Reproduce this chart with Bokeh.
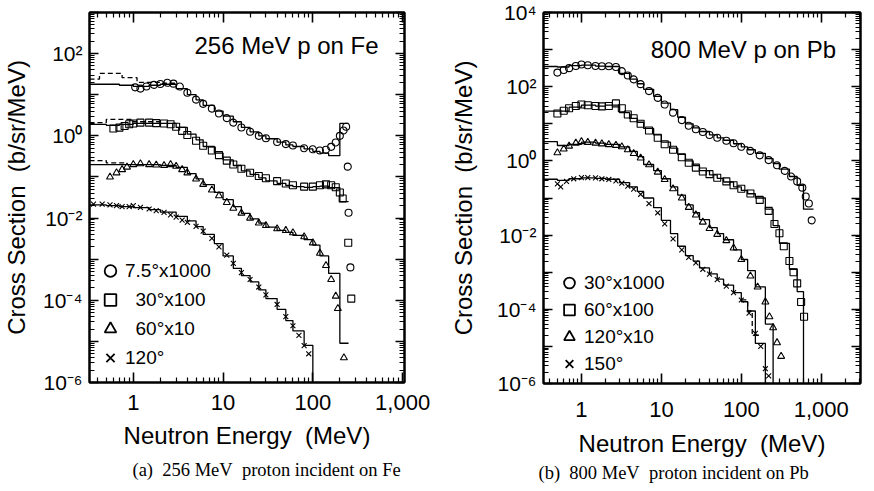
from bokeh.plotting import figure
from bokeh.layouts import row
from bokeh.models import (Range1d, LogAxis, FixedTicker, CustomJSTickFormatter,
                          NumeralTickFormatter, Legend, LegendItem, Label, Title)
from bokeh.embed import file_html
from bokeh.resources import INLINE

# ---------------- panel (a): 256 MeV p on Fe (plotted, already scaled) -------------
A_E_75 = [1.05, 1.2, 1.4, 1.7, 2.0, 2.4, 2.8, 3.3, 4.0, 5.0, 6.0, 7.5, 9, 11, 13, 16, 20, 25, 30, 40,
          50, 60, 80, 100, 120, 140, 160, 180, 200, 220, 235, 245, 250, 262]
A_Y_75 = [15.1, 14.1, 15.8, 17.4, 18.2, 19.5, 18.6, 15.8, 11.2, 7.6, 6.0, 4.6, 3.5, 2.7, 2.1, 1.6, 1.26, 1.0, 0.87, 0.71,
          0.63, 0.58, 0.5, 0.47, 0.44, 0.46, 0.54, 0.69, 1.0, 1.35, 1.66, 0.178, 0.0135, 0.00063]
A_E_30 = [0.6, 0.7, 0.8, 0.9, 1.0, 1.2, 1.5, 1.8, 2.2, 2.6, 3.0, 3.5, 4.0, 5.0, 6.0, 7.5, 9, 11, 13, 16,
          20, 25, 30, 40, 50, 60, 80, 100, 120, 140, 160, 180, 200, 215, 248, 268]
A_Y_30 = [1.51, 1.58, 1.74, 1.91, 2.0, 2.09, 2.09, 2.04, 2.0, 1.91, 1.66, 1.32, 1.05, 0.76, 0.575, 0.44, 0.34, 0.25, 0.2, 0.158,
          0.126, 0.105, 0.093, 0.079, 0.069, 0.063, 0.058, 0.058, 0.063, 0.066, 0.063, 0.056, 0.042, 0.030, 0.0025, 0.00011]
A_E_60 = [0.55, 0.65, 0.75, 0.85, 1.0, 1.2, 1.5, 1.8, 2.2, 2.6, 3.0, 3.5, 4.0, 5.0, 6.0, 7.5, 9, 11, 13, 16,
          20, 25, 30, 40, 50, 60, 80, 100, 120, 140, 160, 180, 190, 222]
A_Y_60 = [0.1, 0.126, 0.151, 0.174, 0.2, 0.209, 0.2, 0.195, 0.19, 0.2, 0.182, 0.151, 0.126, 0.089, 0.066, 0.048, 0.035, 0.024, 0.0174, 0.0132,
          0.01, 0.0076, 0.0066, 0.0055, 0.005, 0.0044, 0.0035, 0.0025, 0.0014, 0.0007, 0.00032, 0.000126, 0.000063, 0.000004]
A_E_120 = [0.36, 0.45, 0.55, 0.65, 0.75, 0.9, 1.0, 1.2, 1.5, 1.8, 2.2, 2.6, 3.0, 3.5, 4.0, 5.0, 6.0, 7.5, 9, 11,
           13, 16, 20, 25, 30, 40, 50, 60, 70, 80, 90]
A_Y_120 = [0.0219, 0.0219, 0.0209, 0.02, 0.019, 0.019, 0.02, 0.0182, 0.0166, 0.0151, 0.0138, 0.012, 0.0105, 0.0089, 0.0079, 0.0063, 0.0048, 0.0032, 0.002, 0.00126,
           0.00079, 0.00047, 0.00032, 0.00021, 0.000135, 0.000079, 0.00004, 0.000024, 0.000014, 0.0000079, 0.000005]

# calculation histograms (panel a)
A_EDGES = [0.325, 0.5, 0.7, 1, 1.5, 2, 3, 4, 5, 6, 8, 10, 13, 16, 20, 25, 30, 40, 50, 60, 80, 100, 120, 150, 200, 250]
A_H_75 = [18, 18, 17, 16, 17, 18, 14, 10, 7.5, 5.5, 4.0, 3.0, 2.2, 1.6, 1.25, 1.0, 0.85, 0.7, 0.6, 0.55, 0.48, 0.42, 0.38, 0.33, 2.0]
A_H_30 = [1.9, 1.8, 1.9, 2.0, 2.0, 2.0, 1.6, 1.1, 0.8, 0.55, 0.38, 0.26, 0.19, 0.14, 0.115, 0.095, 0.08, 0.07, 0.062, 0.058, 0.056, 0.058, 0.06, 0.055, 0.025]
A_H_60 = [0.2, 0.2, 0.2, 0.2, 0.2, 0.19, 0.17, 0.12, 0.09, 0.065, 0.042, 0.028, 0.019, 0.013, 0.0095, 0.0075, 0.006, 0.005, 0.0045, 0.0038, 0.003, 0.0022, 0.0012, 0.00045, 0.000009]
A_H_120 = [0.021, 0.02, 0.019, 0.018, 0.016, 0.014, 0.011, 0.0085, 0.0062, 0.004, 0.0024, 0.0012, 0.0006, 0.0004, 0.00028, 0.00018, 0.00011, 0.00006, 0.000032, 0.000018, 0.000008]
A_D_EDGES_75 = [0.325, 0.42, 0.75, 1.1, 2.0, 3.0]
A_D_75 = [24, 33, 26, 20, 19]
A_D_EDGES_30 = [0.325, 0.5, 1.0, 2.0]
A_D_30 = [2.1, 2.5, 2.2]
A_D_EDGES_60 = [0.325, 0.5, 0.8]
A_D_60 = [0.25, 0.22]

# ---------------- panel (b): 800 MeV p on Pb ----------------
B_E_30 = [0.5, 0.6, 0.7, 0.85, 1.0, 1.2, 1.5, 1.8, 2.2, 2.7, 3.2, 3.8, 4.5, 5.5, 7, 9, 11, 14, 18, 22,
          27, 33, 40, 50, 65, 80, 100, 130, 170, 220, 280, 350, 420, 500, 580, 640, 700, 760]
B_Y_30 = [240, 282, 316, 363, 398, 380, 363, 355, 355, 339, 263, 200, 158, 117, 76, 50, 33, 20, 12.6, 8.9,
          7.1, 6.0, 5.0, 4.2, 3.5, 3.0, 2.4, 1.86, 1.41, 1.05, 0.76, 0.54, 0.38, 0.28, 0.19, 0.11, 0.071, 0.025]
B_E_60 = [0.5, 0.6, 0.7, 0.85, 1.0, 1.2, 1.5, 1.8, 2.2, 2.7, 3.2, 3.8, 4.5, 5.5, 7, 9, 11, 14, 18, 22,
          27, 33, 40, 50, 65, 80, 100, 130, 170, 220, 260, 300, 340, 400, 450, 500, 560, 610]
B_Y_60 = [19, 22.4, 26.3, 30.2, 33.1, 31.6, 30.2, 29.5, 30.2, 35.5, 26.3, 17.8, 14.1, 10, 6.6, 4.2, 2.8, 2.0, 1.26, 0.89,
          0.66, 0.52, 0.44, 0.35, 0.28, 0.22, 0.178, 0.132, 0.089, 0.045, 0.02, 0.0112, 0.005, 0.002, 0.001, 0.0005, 0.000158, 0.000063]
B_E_120 = [0.5, 0.6, 0.7, 0.85, 1.0, 1.2, 1.5, 1.8, 2.2, 2.7, 3.2, 3.8, 4.5, 5.5, 7, 9, 11, 14, 18, 22,
           27, 33, 40, 50, 65, 80, 100, 130, 160, 200, 225, 250, 280, 315]
B_Y_120 = [1.66, 2.09, 2.51, 3.02, 3.31, 3.16, 3.02, 2.88, 2.75, 2.63, 2.4, 2.0, 1.58, 1.2, 0.79, 0.5, 0.316, 0.178, 0.1, 0.056,
           0.035, 0.0224, 0.0151, 0.0105, 0.0071, 0.0045, 0.0022, 0.00079, 0.0004, 0.000158, 0.000063, 0.000032, 0.0000126, 0.0000054]
B_E_150 = [0.5, 0.55, 0.65, 0.8, 1.0, 1.2, 1.5, 1.8, 2.2, 2.7, 3.2, 3.8, 4.5, 5.5, 7, 9, 11, 14, 18, 22,
           27, 33, 40, 50, 65, 80, 100, 125, 150, 175, 200, 220]
B_Y_150 = [0.24, 0.2, 0.28, 0.33, 0.355, 0.355, 0.347, 0.33, 0.316, 0.29, 0.25, 0.21, 0.174, 0.126, 0.071, 0.04, 0.02, 0.0079, 0.004, 0.0025,
           0.00178, 0.0012, 0.00089, 0.00063, 0.00042, 0.00028, 0.000178, 0.000079, 0.0000224, 0.00001, 0.0000025, 0.0000016]

B_EDGES = [0.335, 0.5, 0.7, 1, 1.5, 2, 3, 4, 5, 6, 8, 10, 13, 16, 20, 25, 30, 40, 50, 60, 80, 100, 120, 150, 200, 250, 300, 400, 500, 600, 800]
B_H_30 = [350, 340, 370, 380, 360, 350, 230, 160, 120, 85, 55, 36, 24, 15, 10, 7.8, 6.2, 5.0, 4.2, 3.6, 2.9, 2.4, 2.0, 1.6, 1.15, 0.85, 0.6, 0.38, 0.22, 0.05]
B_H_60 = [22, 22, 28, 32, 30, 32, 20, 14, 11, 7.5, 5.0, 3.2, 2.2, 1.5, 1.0, 0.75, 0.55, 0.42, 0.34, 0.27, 0.2, 0.16, 0.13, 0.1, 0.05, 0.018, 0.006, 0.0012, 0.0003]
B_H_120 = [3.3, 2.6, 2.8, 3.2, 3.0, 2.8, 2.4, 1.8, 1.3, 0.8, 0.55, 0.33, 0.2, 0.12, 0.065, 0.04, 0.026, 0.016, 0.011, 0.0075, 0.004, 0.0022, 0.0011, 0.0004, 0.00004]
B_H_150 = [0.32, 0.3, 0.33, 0.35, 0.34, 0.32, 0.26, 0.2, 0.15, 0.1, 0.055, 0.025, 0.011, 0.005, 0.0028, 0.002, 0.0013, 0.0009, 0.00065, 0.00045, 0.00028, 0.00016, 0.00009, 0.000012]
B_D_EDGES_150 = [100, 120, 137, 170]
B_D_150 = [0.00018, 0.00009, 0.00002]

NB = "\u00a0"
A_LABELS = ["7.5\u00b0x1000", NB * 2 + "30\u00b0x100", NB * 2 + "60\u00b0x10", "120\u00b0"]
B_LABELS = ["30\u00b0x1000", "60\u00b0x100", "120\u00b0x10", "150\u00b0"]
MARKERS = ["circle", "square", "triangle", "x"]
A_CAPTION = NB.join(["(a)", "", "256", "MeV", "", "proton", "incident", "on", "Fe"])
B_CAPTION = NB.join(["(b)", "", "800", "MeV", "", "proton", "incident", "on", "Pb"])

X_MAJOR = [1, 10, 100, 1000]
FONT = "Liberation Sans"


def steps(edges, vals, floor=None):
    xs, ys = [], []
    for i, v in enumerate(vals):
        xs += [edges[i], edges[i + 1]]
        ys += [v, v]
    if floor is not None:
        xs.append(edges[len(vals)])
        ys.append(floor)
    return xs, ys


def make_panel(xr, yr, exps, frame, borders, ylab_standoff, xtick_standoff, xlab_standoff,
               title_text, title_xy, caption, cap_offset, cap_standoff,
               series, hists, dashed, labels, leg_loc, leg_glyph_h):
    bl, br, bt, bb = borders
    p = figure(frame_width=frame[0], frame_height=frame[1], x_axis_type="log", y_axis_type="log",
               x_range=Range1d(*xr), y_range=Range1d(*yr),
               output_backend="svg", toolbar_location=None,
               min_border_left=bl, min_border_right=br, min_border_top=bt, min_border_bottom=bb)
    p.title.visible = False
    p.xgrid.visible = False
    p.ygrid.visible = False
    p.outline_line_color = "black"
    p.outline_line_width = 2
    p.background_fill_color = "white"
    p.border_fill_color = "white"

    x_minor = [k * 10.0 ** n for n in range(-1, 4) for k in range(2, 10) if xr[0] < k * 10.0 ** n < xr[1]]
    y_major = [10.0 ** e for e in exps]
    y_minor = [k * 10.0 ** n for n in exps for k in range(2, 10) if yr[0] < k * 10.0 ** n < yr[1]]
    xt = FixedTicker(ticks=X_MAJOR, minor_ticks=x_minor)
    yt = FixedTicker(ticks=y_major, minor_ticks=y_minor)
    yfmt = CustomJSTickFormatter(code="""
        const e = Math.round(Math.log10(tick));
        if (e % 2 !== 0) { return " "; }
        const sup = {"-": "\u207b", "0": "\u2070", "1": "\u00b9", "2": "\u00b2", "3": "\u00b3",
                     "4": "\u2074", "5": "\u2075", "6": "\u2076", "7": "\u2077", "8": "\u2078", "9": "\u2079"};
        return "10" + String(e).split("").map(c => sup[c]).join("");
    """)

    def style(ax, major_len, minor_len):
        ax.major_tick_in = major_len
        ax.major_tick_out = 0
        ax.minor_tick_in = minor_len
        ax.minor_tick_out = 0
        ax.axis_line_width = 2
        ax.axis_line_color = "black"
        ax.major_tick_line_width = 1.6
        ax.minor_tick_line_width = 1.2
        ax.major_tick_line_color = "black"
        ax.minor_tick_line_color = "black"

    xa = p.xaxis[0]
    xa.ticker = xt
    xa.formatter = NumeralTickFormatter(format="0,0")
    style(xa, 10, 5)
    xa.major_label_text_font = FONT
    xa.major_label_text_font_size = "22px"
    xa.major_label_text_color = "black"
    xa.major_label_standoff = xtick_standoff
    xa.axis_label = "Neutron Energy" + NB * 2 + "(MeV)"
    xa.axis_label_text_font = FONT
    xa.axis_label_text_font_size = "24px"
    xa.axis_label_text_font_style = "normal"
    xa.axis_label_text_color = "black"
    xa.axis_label_standoff = xlab_standoff

    ya = p.yaxis[0]
    ya.ticker = yt
    ya.formatter = yfmt
    style(ya, 9, 5)
    ya.major_label_text_font = FONT
    ya.major_label_text_font_size = "21px"
    ya.major_label_text_color = "black"
    ya.major_label_standoff = 7
    ya.axis_label = "Cross Section" + NB * 2 + "(b/sr/MeV)"
    ya.axis_label_text_font = FONT
    ya.axis_label_text_font_size = "24px"
    ya.axis_label_text_font_style = "normal"
    ya.axis_label_text_color = "black"
    ya.axis_label_standoff = ylab_standoff

    top = LogAxis(ticker=xt, formatter=NumeralTickFormatter(format="0,0"),
                  major_label_text_font_size="2px", major_label_text_color=None, major_label_standoff=0)
    style(top, 10, 5)
    p.add_layout(top, "above")
    right = LogAxis(ticker=yt, major_label_text_font_size="2px", major_label_text_color=None,
                    major_label_standoff=0)
    style(right, 9, 5)
    p.add_layout(right, "right")

    floor = yr[0] / 10.0
    for (edges, vals, drop) in hists:
        hx, hy = steps(edges, vals, floor if drop else None)
        p.line(hx, hy, line_color="black", line_width=1.3)
    for (edges, vals) in dashed:
        hx, hy = steps(edges, vals)
        p.line(hx, hy, line_color="black", line_width=1.3, line_dash="5 3")
    for (ex, ey), m in zip(series, MARKERS):
        p.scatter(ex, ey, marker=m, size=7, fill_color=None, line_color="black", line_width=1.1)

    items = []
    for lab, m in zip(labels, MARKERS):
        r = p.scatter([1.0], [1.0], marker=m, size=10, fill_color=None, line_color="black",
                      line_width=1.8, visible=False)
        items.append(LegendItem(label=lab, renderers=[r]))
    leg = Legend(items=items, location=leg_loc, glyph_width=30, glyph_height=leg_glyph_h,
                 label_height=leg_glyph_h, label_standoff=0, spacing=0, padding=0, margin=0,
                 border_line_color=None, background_fill_alpha=0, click_policy="none",
                 label_text_font=FONT, label_text_font_size="19px", label_text_color="black")
    p.add_layout(leg)

    p.add_layout(Label(x=title_xy[0], y=title_xy[1], text=title_text, text_align="right",
                       text_baseline="middle", text_font=FONT, text_font_size="24px",
                       text_color="black"))
    cap = Title(text=caption, align="left", offset=cap_offset, standoff=cap_standoff,
                text_font="Liberation Serif", text_font_size="18.5px", text_font_style="normal",
                text_color="black")
    p.add_layout(cap, "below")
    return p


pa = make_panel(
    xr=(0.325, 1050), yr=(1e-6, 1e3), exps=list(range(-6, 4)),
    frame=(315, 370), borders=(82, 32, 9, 60), ylab_standoff=10,
    xtick_standoff=12, xlab_standoff=9,
    title_text="256 MeV p on Fe", title_xy=(540, 157),
    caption=A_CAPTION, cap_offset=43, cap_standoff=12,
    series=[(A_E_75, A_Y_75), (A_E_30, A_Y_30), (A_E_60, A_Y_60), (A_E_120, A_Y_120)],
    hists=[(A_EDGES, A_H_75, False), (A_EDGES, A_H_30, False), (A_EDGES, A_H_60, False), (A_EDGES, A_H_120, True)],
    dashed=[(A_D_EDGES_75, A_D_75), (A_D_EDGES_30, A_D_30), (A_D_EDGES_60, A_D_60)],
    labels=A_LABELS, leg_loc=(6, 10), leg_glyph_h=29)

pb = make_panel(
    xr=(0.335, 3100), yr=(1e-6, 1e4), exps=list(range(-6, 5)),
    frame=(317, 371), borders=(107, 5, 12, 60), ylab_standoff=17,
    xtick_standoff=18, xlab_standoff=10,
    title_text="800 MeV p on Pb", title_xy=(1540, 1000),
    caption=B_CAPTION, cap_offset=-5, cap_standoff=2,
    series=[(B_E_30, B_Y_30), (B_E_60, B_Y_60), (B_E_120, B_Y_120), (B_E_150, B_Y_150)],
    hists=[(B_EDGES, B_H_30, False), (B_EDGES, B_H_60, True), (B_EDGES, B_H_120, True), (B_EDGES, B_H_150, True)],
    dashed=[(B_D_EDGES_150, B_D_150)],
    labels=B_LABELS, leg_loc=(11, 6), leg_glyph_h=27)

layout = row(pa, pb)
open("out.html", "w", encoding="utf-8").write(file_html(layout, INLINE))
